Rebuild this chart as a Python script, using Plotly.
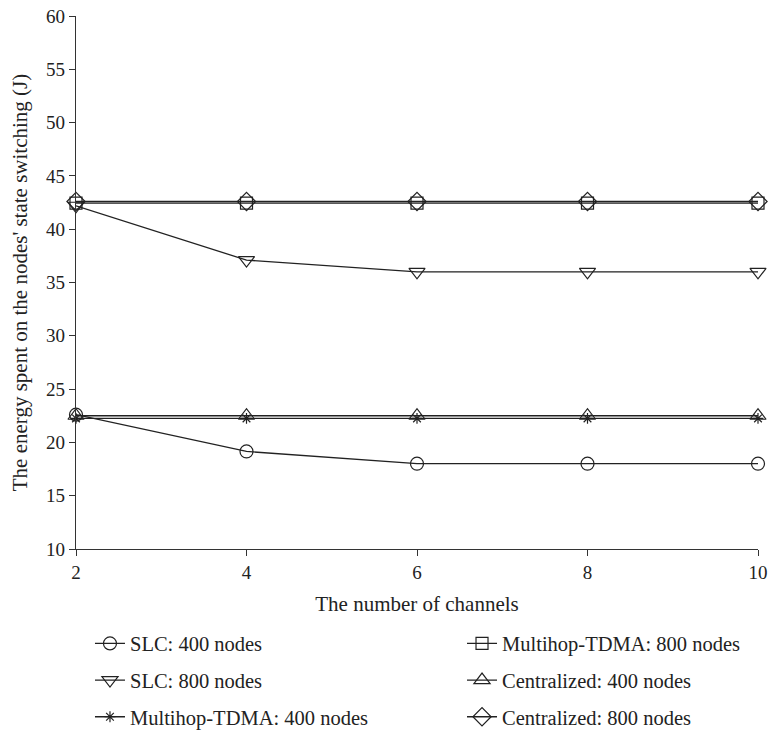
import plotly.graph_objects as go

channels = [2, 4, 6, 8, 10]

slc_400 = [22.6, 19.15, 18.0, 18.0, 18.0]
slc_800 = [42.2, 37.1, 36.0, 36.0, 36.0]
mhtdma_400 = [22.25, 22.25, 22.25, 22.25, 22.25]
mhtdma_800 = [42.45, 42.45, 42.45, 42.45, 42.45]
central_400 = [22.5, 22.5, 22.5, 22.5, 22.5]
central_800 = [42.6, 42.6, 42.6, 42.6, 42.6]

y_ticks = [10, 15, 20, 25, 30, 35, 40, 45, 50, 55, 60]
x_ticks = [2, 4, 6, 8, 10]

FONT = "Liberation Serif, Times New Roman, serif"

series = [
    # name, values, symbol, marker size, legend column
    ("SLC: 400 nodes", slc_400, "circle", 13, "legend"),
    ("SLC: 800 nodes", slc_800, "triangle-down", 14, "legend"),
    ("Multihop-TDMA: 400 nodes", mhtdma_400, "asterisk-open", 9, "legend"),
    ("Multihop-TDMA: 800 nodes", mhtdma_800, "square", 12, "legend2"),
    ("Centralized: 400 nodes", central_400, "triangle-up", 14, "legend2"),
    ("Centralized: 800 nodes", central_800, "diamond", 14, "legend2"),
]

fig = go.Figure()
for i, (name, vals, sym, msize, leg) in enumerate(series):
    line_only = sym.endswith("-open")
    fig.add_trace(go.Scatter(
        x=channels, y=vals, name=name, mode="lines+markers",
        line=dict(color="#222222", width=1.3),
        marker=dict(
            symbol=sym, size=msize,
            color="#222222" if line_only else "rgba(255,255,255,0)",
            line=dict(color="#222222", width=1.2),
        ),
        cliponaxis=False,
        legend=leg, legendgroup=f"g{i}",
    ))

legend_common = dict(
    font=dict(family=FONT, size=20.5, color="#222222"),
    bgcolor="rgba(0,0,0,0)", tracegroupgap=7,
    itemwidth=30, yanchor="top", y=-0.140,
)

fig.update_layout(
    width=768, height=735,
    margin=dict(l=76, r=10, t=16, b=186, autoexpand=False),
    plot_bgcolor="white", paper_bgcolor="white",
    font=dict(family=FONT, size=21, color="#222222"),
    showlegend=True,
    legend=dict(x=0.0205, xanchor="left", **legend_common),
    legend2=dict(x=0.566, xanchor="left", **legend_common),
    xaxis=dict(
        range=[2, 10], tickvals=x_ticks, showgrid=False, zeroline=False,
        showline=True, linecolor="#333333", linewidth=1.3,
        ticks="outside", ticklen=6, tickcolor="#333333",
        tickfont=dict(family=FONT, size=19),
        title=dict(text="The number of channels", font=dict(family=FONT, size=21), standoff=14),
    ),
    yaxis=dict(
        range=[10, 60], tickvals=y_ticks, showgrid=False, zeroline=False,
        showline=True, linecolor="#333333", linewidth=1.3,
        ticks="outside", ticklen=6, tickcolor="#333333",
        tickfont=dict(family=FONT, size=19),
        title=dict(text="The energy spent on the nodes' state switching (J)",
                   font=dict(family=FONT, size=21), standoff=12),
    ),
)

fig.write_html("out.html")
